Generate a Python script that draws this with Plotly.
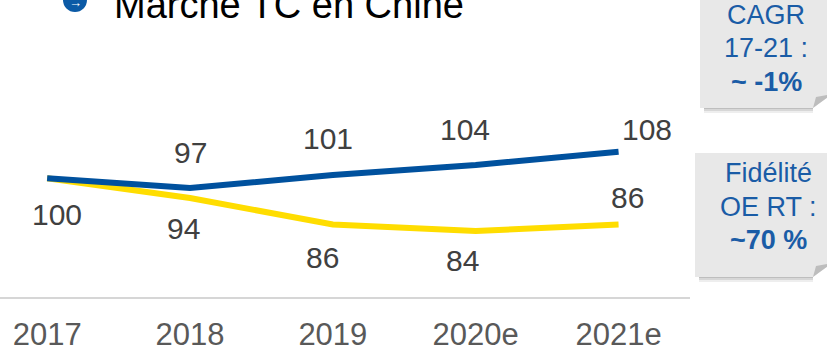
"""Marché TC en Chine : indice 2017-2021e (base 100)."""
import plotly.graph_objects as go

# données
YEARS = ["2017", "2018", "2019", "2020e", "2021e"]
MARCHE = [100, 97, 101, 104, 108]      # bleu
FIDELITE = [100, 94, 86, 84, 86]       # jaune

COLORS = {
    "blue": "#00519e",
    "yellow": "#ffdd00",
    "label": "#404040",
    "tick": "#595959",
    "box": "#e8e8e8",
    "box_text": "#1a5ca6",
}

# géométrie en pixels
W, H = 827, 348
L, R, T, B = 0, 137, 0, 51
PW, PH = W - L - R, H - T - B


def px(x):
    return (x - L) / PW


def py(y):
    return (H - B - y) / PH


def note(x, y, text, size, color, **kw):
    fig.add_annotation(xref="paper", yref="paper", x=px(x), y=py(y),
                       text=text, showarrow=False,
                       xanchor=kw.get("xanchor", "center"), yanchor="middle",
                       font=dict(size=size, color=color))


# décalages des étiquettes (pixels) : (dx, dy)
BLUE_SHIFT = [None, (0, 36), (-5, 36), (-11, 36), (28, 22)]
YELLOW_SHIFT = [(10, -36), (-7, -30), (-10, -33), (-13, -29), (9, 27)]

fig = go.Figure()
xs = list(range(len(YEARS)))

fig.add_trace(go.Scatter(
    x=xs, y=FIDELITE, mode="lines",
    line=dict(color=COLORS["yellow"], width=6),
    hoverinfo="skip",
))
fig.add_trace(go.Scatter(
    x=xs, y=MARCHE, mode="lines",
    line=dict(color=COLORS["blue"], width=6),
    hoverinfo="skip",
))

for i, v in enumerate(MARCHE):
    if BLUE_SHIFT[i] is None:
        continue
    dx, dy = BLUE_SHIFT[i]
    fig.add_annotation(x=i, y=v, text=str(v), showarrow=False,
                       xshift=dx, yshift=dy,
                       font=dict(size=30, color=COLORS["label"]))
for i, v in enumerate(FIDELITE):
    dx, dy = YELLOW_SHIFT[i]
    fig.add_annotation(x=i, y=v, text=str(v), showarrow=False,
                       xshift=dx, yshift=dy,
                       font=dict(size=30, color=COLORS["label"]))

# titre (coupé en haut)
note(112, 2, "Marché TC en Chine<sup>*</sup>", 38, "#000000", xanchor="left")
fig.add_shape(type="circle", xref="paper", yref="paper",
              x0=px(63), x1=px(87), y0=py(12), y1=py(-12),
              fillcolor="#0b5aa6", line=dict(width=0))
note(75, 3, "→", 13, "white")


def callout(x0, y0, x1, y1, fold):
    # ombre
    for k, op in [(5, 0.10), (3, 0.15), (1, 0.2)]:
        fig.add_shape(type="path", xref="paper", yref="paper",
                      path=(f"M {px(x0 + 4)} {py(y1 - 6)} L {px(x1 - fold)} {py(y1 - 6)} "
                            f"L {px(x1 - fold)} {py(y1 + k)} L {px(x0 + 4)} {py(y1 + k)} Z"),
                      fillcolor=f"rgba(90,90,90,{op})", line=dict(width=0))
    fig.add_shape(type="path", xref="paper", yref="paper",
                  path=(f"M {px(x0)} {py(y0)} L {px(x1 + 5)} {py(y0)} "
                        f"L {px(x1 + 5)} {py(y1 - fold)} L {px(x1 - fold)} {py(y1)} "
                        f"L {px(x0)} {py(y1)} Z"),
                  fillcolor=COLORS["box"], line=dict(width=0))
    fig.add_shape(type="path", xref="paper", yref="paper",
                  path=(f"M {px(x1 - fold)} {py(y1)} L {px(x1 - fold + 3)} {py(y1 - fold + 3)} "
                        f"L {px(x1 + 5)} {py(y1 - fold)} Z"),
                  fillcolor="#bdbdbd", line=dict(width=0))


callout(700, -5, 827, 108, 14)
callout(695, 153, 827, 277, 14)

BOX1 = ["CAGR", "17-21 :", "<b>~ -1%</b>"]
BOX2 = ["Fidélité", "OE RT :", "<b>~70 %</b>"]
for txt, y in zip(BOX1, [15, 48, 82]):
    note(766, y, txt, 27, COLORS["box_text"])
for txt, y in zip(BOX2, [173, 207, 240]):
    note(768, y, txt, 27, COLORS["box_text"])

fig.update_layout(
    width=W, height=H,
    margin=dict(l=L, r=R, t=T, b=B, pad=0),
    paper_bgcolor="white",
    plot_bgcolor="white",
    showlegend=False,
    font=dict(family="Liberation Sans, Arial, sans-serif"),
    xaxis=dict(
        range=[-0.33, 4.5],
        tickvals=xs, ticktext=YEARS,
        showgrid=False, zeroline=False,
        showline=True, linecolor="#d6d6d6", linewidth=2,
        ticks="", ticklabelstandoff=9,
        tickfont=dict(size=31, color=COLORS["tick"]),
        automargin=False, fixedrange=True,
    ),
    yaxis=dict(
        range=[64, 154], visible=False,
        automargin=False, fixedrange=True,
    ),
)

fig.write_html(
    "out.html",
    config={"displayModeBar": False},
    post_script="document.body.style.margin='0';",
)
